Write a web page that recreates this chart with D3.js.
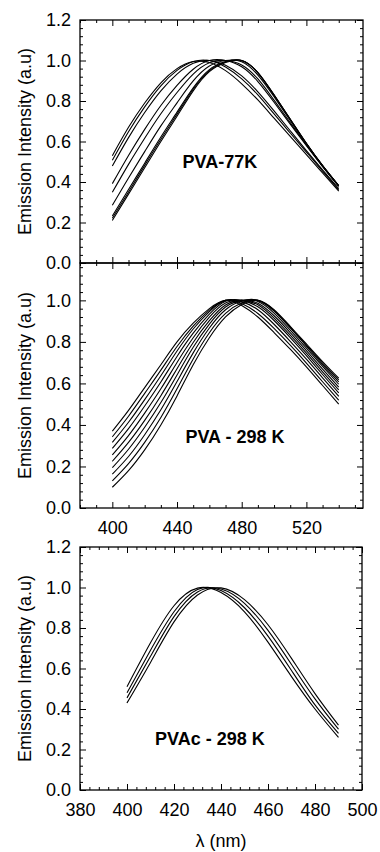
<!DOCTYPE html>
<html lang="en">
<head>
<meta charset="UTF-8">
<title>Emission spectra</title>
<script src="https://cdn.jsdelivr.net/npm/d3@7"></script>
<style>
  body { margin: 0; background: #fff; }
  svg { display: block; font-family: Arial, "Liberation Sans", sans-serif; }
  .axis text { font-size: 18px; fill: #000; }
  .axis line { stroke: #000; stroke-width: 1; }
  .axis path { display: none; }
  .frame { fill: none; stroke: #000; stroke-width: 1.3; }
  .curve { fill: none; stroke: #000; stroke-width: 1.1; }
  .note { font-size: 18px; font-weight: bold; text-anchor: middle; }
  .ytitle, .xtitle { font-size: 18px; text-anchor: middle; }
</style>
</head>
<body>
<svg id="chart" width="380" height="852"></svg>
<script>
const wlPVA  = [400, 410, 420, 430, 440, 450, 460, 470, 480, 490, 500, 510, 520, 530, 540];
const wlPVAc = [400, 410, 420, 430, 440, 450, 460, 470, 480, 490];

// PVA at 77 K, normalised emission
const pva77 = [
  [.53, .67, .79, .89, .96, .995, .99, .95, .885, .805, .715, .625, .535, .445, .355],
  [.507, .648, .771, .875, .951, .995, 1.0, .968, .909, .830, .736, .642, .548, .454, .362],
  [.479, .619, .743, .850, .933, .986, 1.0, .976, .924, .845, .751, .653, .555, .460, .367],
  [.392, .531, .660, .778, .877, .957, 1.0, 1.0, .969, .896, .794, .686, .579, .476, .379],
  [.349, .487, .616, .737, .842, .933, .989, 1.0, .978, .909, .804, .693, .583, .478, .380],
  [.285, .420, .550, .677, .791, .899, .973, 1.0, .994, .928, .821, .704, .589, .481, .382],
  [.232, .363, .493, .622, .745, .865, .955, .995, 1.0, .939, .829, .710, .591, .481, .381],
  [.221, .351, .482, .611, .735, .858, .950, .993, 1.0, .940, .829, .710, .590, .481, .381],
  [.21, .34, .47, .60, .725, .85, .945, .99, 1.00, .94, .83, .71, .59, .48, .38]
];

// PVA at 298 K
const pva298 = [
  [.37, .47, .58, .69, .80, .89, .96, 1.00, .975, .92, .845, .765, .68, .59, .50],
  [.343, .442, .552, .664, .778, .876, .953, 1.0, .985, .937, .865, .784, .698, .608, .519],
  [.316, .413, .522, .637, .756, .862, .946, 1.0, .994, .955, .885, .803, .717, .627, .538],
  [.287, .382, .491, .607, .730, .842, .934, .996, 1.0, .969, .903, .821, .734, .643, .555],
  [.256, .349, .457, .574, .701, .820, .919, .987, 1.0, .979, .915, .833, .746, .656, .569],
  [.225, .316, .422, .541, .671, .797, .902, .978, 1.0, .986, .926, .845, .758, .669, .582],
  [.194, .283, .389, .508, .641, .774, .886, .968, 1.0, .995, .939, .857, .770, .682, .596],
  [.163, .248, .353, .473, .609, .747, .867, .955, .997, 1.0, .948, .867, .780, .691, .608],
  [.131, .214, .316, .436, .574, .718, .844, .937, .988, 1.0, .952, .871, .785, .698, .617],
  [.10, .18, .28, .40, .54, .69, .82, .92, .98, 1.00, .955, .875, .79, .705, .625]
];

// PVAc at 298 K
const pvac298 = [
  [.51, .727, .91, .997, .975, .88, .73, .56, .40, .26],
  [.48, .69, .88, .99, .985, .90, .76, .59, .42, .28],
  [.455, .66, .856, .978, .993, .922, .788, .62, .45, .30],
  [.43, .63, .83, .963, .998, .94, .816, .65, .476, .32]
];

const yMajor = [0, 0.2, 0.4, 0.6, 0.8, 1.0, 1.2];
const xMajorPVA = [400, 440, 480, 520];
const xMajorPVAc = [380, 400, 420, 440, 460, 480, 500];

const svg = d3.select("#chart");
const left = 80, right = 363;

const panels = [
  { top: 20, bottom: 263, right: right, xDom: [380, 555], yDom: [0, 1.2], wl: wlPVA, data: pva77,
    xMajor: xMajorPVA, xMinor: 10, xLabels: false, note: "PVA-77K", nx: 466.5, ny: 0.47 },
  { top: 263, bottom: 508, right: right, xDom: [380, 555], yDom: [0, 1.18], wl: wlPVA, data: pva298,
    xMajor: xMajorPVA, xMinor: 10, xLabels: true, note: "PVA - 298 K", nx: 475.8, ny: 0.313 },
  { top: 547, bottom: 790, right: 362, xDom: [380, 500], yDom: [0, 1.2], wl: wlPVAc, data: pvac298,
    xMajor: xMajorPVAc, xMinor: 4, xLabels: true, note: "PVAc - 298 K", nx: 435.3, ny: 0.222 }
];

panels.forEach(p => {
  const x = d3.scaleLinear().domain(p.xDom).range([left, p.right]);
  const y = d3.scaleLinear().domain(p.yDom).range([p.bottom, p.top]);
  const g = svg.append("g");

  const xMinorVals = d3.range(p.xDom[0], p.xDom[1] + 0.001, p.xMinor).filter(v => !p.xMajor.includes(v));
  const yMinorVals = d3.range(0, p.yDom[1] + 0.001, 0.04).filter(v => Math.abs(Math.round(v * 5) - v * 5) > 0.01);
  const yMaj = yMajor.filter(v => v <= p.yDom[1] + 1e-6);

  // ticks point inward on all four sides
  g.append("g").attr("class", "axis").attr("transform", `translate(${left},0)`)
    .call(d3.axisLeft(y).tickValues(yMaj).tickSizeInner(-6).tickSizeOuter(0).tickPadding(9).tickFormat(d3.format(".1f")));
  g.append("g").attr("class", "axis").attr("transform", `translate(${left},0)`)
    .call(d3.axisLeft(y).tickValues(yMinorVals).tickSizeInner(-3).tickSizeOuter(0).tickFormat(""));
  g.append("g").attr("class", "axis").attr("transform", `translate(${p.right},0)`)
    .call(d3.axisRight(y).tickValues(yMaj).tickSizeInner(-6).tickSizeOuter(0).tickFormat(""));
  g.append("g").attr("class", "axis").attr("transform", `translate(${p.right},0)`)
    .call(d3.axisRight(y).tickValues(yMinorVals).tickSizeInner(-3).tickSizeOuter(0).tickFormat(""));

  g.append("g").attr("class", "axis").attr("transform", `translate(0,${p.bottom})`)
    .call(d3.axisBottom(x).tickValues(p.xMajor).tickSizeInner(-6).tickSizeOuter(0).tickPadding(13)
      .tickFormat(p.xLabels ? d3.format("d") : ""));
  g.append("g").attr("class", "axis").attr("transform", `translate(0,${p.bottom})`)
    .call(d3.axisBottom(x).tickValues(xMinorVals).tickSizeInner(-3).tickSizeOuter(0).tickFormat(""));
  g.append("g").attr("class", "axis").attr("transform", `translate(0,${p.top})`)
    .call(d3.axisTop(x).tickValues(p.xMajor).tickSizeInner(-6).tickSizeOuter(0).tickFormat(""));
  g.append("g").attr("class", "axis").attr("transform", `translate(0,${p.top})`)
    .call(d3.axisTop(x).tickValues(xMinorVals).tickSizeInner(-3).tickSizeOuter(0).tickFormat(""));

  g.append("rect").attr("class", "frame")
    .attr("x", left).attr("y", p.top)
    .attr("width", p.right - left).attr("height", p.bottom - p.top);

  const line = d3.line()
    .x((d, i) => x(p.wl[i]))
    .y(d => y(d))
    .curve(d3.curveNatural);

  g.selectAll("path.curve").data(p.data).join("path")
    .attr("class", "curve")
    .attr("d", line);

  g.append("text").attr("class", "note")
    .attr("x", x(p.nx)).attr("y", y(p.ny))
    .text(p.note);

  g.append("text").attr("class", "ytitle")
    .attr("transform", `translate(31,${(p.top + p.bottom) / 2}) rotate(-90)`)
    .text("Emission Intensity (a.u)");
});

svg.append("text").attr("class", "xtitle")
  .attr("x", (left + 362) / 2).attr("y", 847)
  .text("λ (nm)");
</script>
</body>
</html>
